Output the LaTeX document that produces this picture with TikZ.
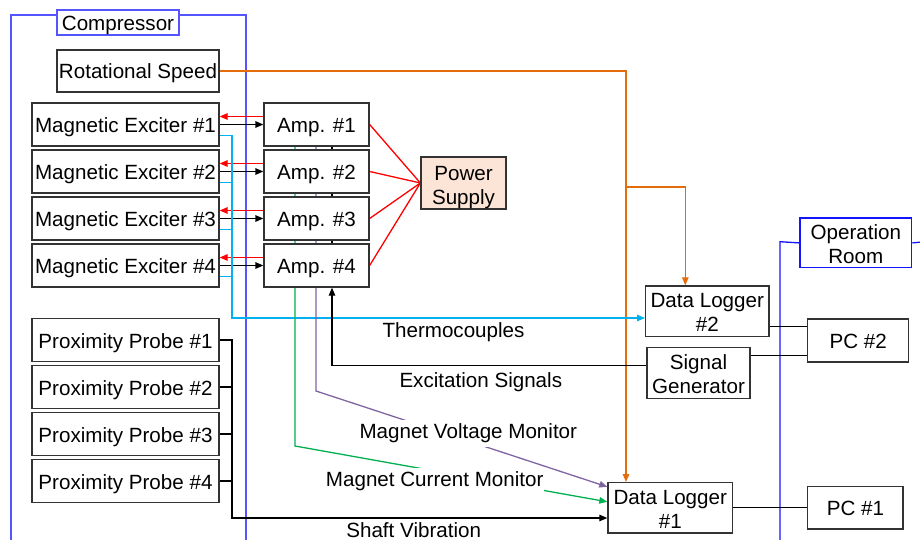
\documentclass[tikz,border=0pt]{standalone}
\usepackage{fontspec}
\setmainfont{Liberation Sans}
\usetikzlibrary{arrows.meta,backgrounds}
\definecolor{cframe}{RGB}{85,85,255}
\definecolor{oframe}{RGB}{20,20,255}
\definecolor{cyl}{RGB}{0,176,240}
\definecolor{orl}{RGB}{228,108,10}
\definecolor{grl}{RGB}{0,176,80}
\definecolor{pul}{RGB}{128,100,162}
\definecolor{rdl}{RGB}{255,0,0}
\definecolor{peach}{RGB}{252,228,214}
\begin{document}
\begin{tikzpicture}[x=1pt,y=-1pt,
  font=\fontsize{20.6}{24}\selectfont,
  box/.style={draw=black!80, line width=1.3pt, fill=white, inner sep=0pt, align=center},
  sbox/.style={box, text height=16pt, text depth=0pt},
  lbl/.style={fill=white, inner xsep=1pt, inner ysep=3.5pt},
  conn/.style={line width=1.3pt},
  tip/.style={-{Triangle[length=8pt,width=6.5pt]}},
  frame/.style={line width=1.3pt}]
\useasboundingbox (0,0) rectangle (920,540);

% boxes
\node[sbox, draw=cframe, minimum width=122, minimum height=25] (comp) at (118,22.5) {Compressor};
\node[box, draw=oframe, minimum width=111.7, minimum height=49.7] (oproom) at (855.8,242.9) {\rule{0pt}{17pt}Operation\\Room};
\node[sbox, minimum width=162, minimum height=42] (rs) at (138,71) {Rotational Speed};
\foreach \i/\y in {1/124.5,2/171.5,3/218.5,4/265.5}{
  \node[sbox, minimum width=187, minimum height=43] (me\i) at (125.5,\y) {Magnetic Exciter \#\i};
  \node[sbox, minimum width=105, minimum height=43] (a\i) at (316.5,\y) {Amp. \#\i};
}
\foreach \i/\y in {1/340,2/387,3/434,4/481}{
  \node[sbox, minimum width=187, minimum height=43] (pp\i) at (125.5,\y) {Proximity Probe \#\i};
}
\node[box, fill=peach, minimum width=85, minimum height=52] (ps) at (463.5,183) {\rule{0pt}{23pt}Power\\Supply};
\node[box, minimum width=123.3, minimum height=50.7] (dl2) at (707.3,311.3) {\rule{0pt}{17pt}Data Logger\\\#2};
\node[box, minimum width=103, minimum height=51] (sg) at (698.5,373.2) {\rule{0pt}{17pt}Signal\\Generator};
\node[sbox, minimum width=101, minimum height=43] (pc2) at (858.2,340.5) {PC \#2};
\node[box, minimum width=124.7, minimum height=50.3] (dl1) at (670.3,507.8) {\rule{0pt}{17pt}Data Logger\\\#1};
\node[sbox, minimum width=95.3, minimum height=42.3] (pc1) at (855.4,507.8) {PC \#1};

% labels
\node[lbl, anchor=base] (ltc) at (453.5,337.5) {Thermocouples};
\node[lbl, anchor=base] (lex) at (480.8,387.2) {Excitation Signals};
\node[lbl, anchor=base] (lmv) at (468.3,438.8) {Magnet Voltage Monitor};
\node[lbl, anchor=base] (lmc) at (434.7,486.2) {Magnet Current Monitor};
\node[lbl, anchor=base, fill=none] (lsv) at (413.7,537.2) {Shaft Vibration};

\begin{pgfonlayer}{background}
% frames
\draw[frame, cframe] (11,545) -- (11,15) -- (246,15) -- (246,545);
\draw[frame, oframe] (780,545) -- (780,241.7) -- (oproom.west);
\draw[frame, oframe] (oproom.east) -- (925,241.7);

% coordinates
\coordinate (ob) at (626,187);
\coordinate (tc0) at (232,318);
\coordinate (gb) at (295,446);
\coordinate (pb) at (316,391);
\coordinate (eb) at (332,365);
\coordinate (sv) at (232,518);

% orange
\draw[conn, orl, tip] (rs.east) -| (ob) -- (ob |- dl1.north);
\draw[conn, orl, tip] (ob) -| ([xshift=-22pt]dl2.north);

% exciter <-> amps, amps -> power supply
\foreach \i in {1,...,4}{
  \draw[conn, rdl, tip] ([yshift=8pt]a\i.west) -- ([yshift=8pt]me\i.east);
  \draw[conn, black, tip] (me\i.east) -- (a\i.west);
  \draw[conn, rdl] (a\i.east) -- (ps.west);
}

% thermocouples
\draw[conn, cyl, tip] ([yshift=-11pt]me1.east) -| (tc0) -- (tc0 -| dl2.west);
\foreach \i in {2,3,4}{
  \draw[conn, cyl] ([yshift=-11pt]me\i.east) -- ++(13,0);
}

% monitors
\draw[conn, grl, tip] (gb |- a1.south) -- (gb) -- ([yshift=6pt]dl1.west);
\draw[conn, pul, tip] (pb |- a1.south) -- (pb) -- ([yshift=21pt]dl1.west);

% excitation signals
\draw[conn, black] (eb |- a1.south) -- (eb |- a4.south);
\draw[conn, black, tip] ([yshift=8pt]sg.west) -| (eb |- a4.south);

% shaft vibration
\draw[conn, black, tip] (pp1.east) -| (sv) -- (sv -| dl1.west);
\foreach \i in {2,3,4}{
  \draw[conn, black] (pp\i.east) -- ++(13,0);
}

% PCs
\draw[conn, black] ([yshift=-15.4pt]dl2.east) -- ([yshift=-15.4pt]dl2.east -| pc2.west);
\draw[conn, black] ([yshift=18pt]sg.east) -- ([yshift=18pt]sg.east -| pc2.west);
\draw[conn, black] (dl1.east) -- (pc1.west);
\end{pgfonlayer}
\end{tikzpicture}
\end{document}
